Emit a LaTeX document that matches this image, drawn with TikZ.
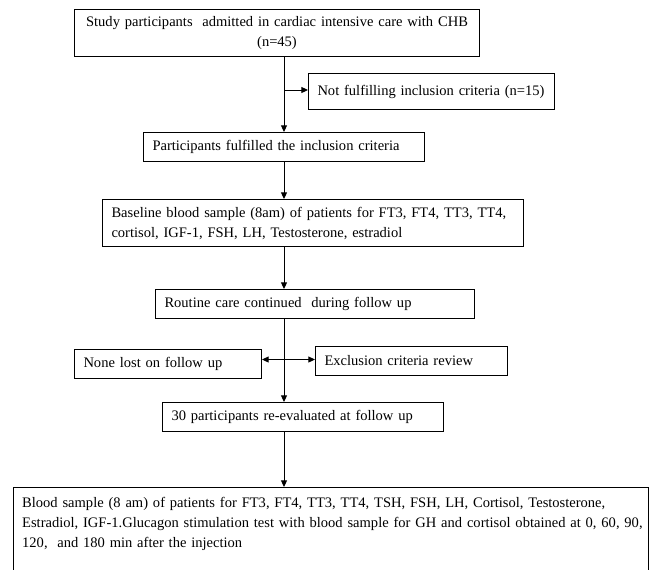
\documentclass[tikz,border=0pt]{standalone}
\usepackage{fontspec}
\setmainfont{Liberation Serif}
\usetikzlibrary{arrows.meta}

\tikzset{every picture/.style={line width=0.75pt}}
\tikzset{
  box/.style={draw, anchor=north west, inner xsep=6.75pt, inner ysep=0pt, align=left,
    font=\fontsize{10.9}{15}\selectfont},
  arr/.style={-{Triangle[length=5pt,width=4.5pt]}}
}

\begin{document}
\begin{tikzpicture}[x=0.75pt,y=0.75pt,yscale=-1,xscale=1]
\useasboundingbox (0,0) rectangle (650,569);

%Shape: Rectangle
\node [box, align=center, text width=290.25pt, minimum height=35.25pt] (admit) at (74,9) {\mbox{Study participants~ admitted in cardiac intensive care with CHB}\\(n=45)};
%Shape: Rectangle
\node [box, text width=171pt, minimum height=27pt] (notfit) at (308,73) {\mbox{Not fulfilling inclusion criteria (n=15)}};
%Shape: Rectangle
\node [box, text width=197.25pt, minimum height=21.75pt] (fulfil) at (143,132) {\mbox{Participants fulfilled the inclusion criteria}};
%Shape: Rectangle
\node [box, text width=302.25pt, minimum height=35.25pt] (baseline) at (102,199) {\mbox{Baseline blood sample (8am) of patients for FT3, FT4, TT3, TT4,}\\\mbox{cortisol, IGF-1, FSH, LH, Testosterone, estradiol}};
%Shape: Rectangle
\node [box, text width=225.75pt, minimum height=21.75pt] (routine) at (155,289) {\mbox{Routine care continued~ during follow up}};
%Shape: Rectangle
\node [box, text width=126.75pt, minimum height=21.75pt] (nonelost) at (74,349) {\mbox{None lost on follow up}};
%Shape: Rectangle
\node [box, text width=130.5pt, minimum height=21.75pt] (exclrev) at (315,346) {\mbox{Exclusion criteria review}};
%Shape: Rectangle
\node [box, text width=197.25pt, minimum height=21.75pt] (reeval) at (162,402) {\mbox{30 participants re-evaluated at follow up}};
%Shape: Rectangle
\node [box, text width=462.75pt, inner ysep=7pt] (final) at (12.7,487) {\mbox{Blood sample (8 am) of patients for FT3, FT4, TT3, TT4, TSH, FSH, LH, Cortisol, Testosterone,}\\\mbox{Estradiol, IGF-1.Glucagon stimulation test with blood sample for GH and cortisol obtained at 0, 60, 90,}\\\mbox{120,~ and 180 min after the injection}\\\mbox{}\\\mbox{}};

\coordinate (split1) at (284,90);
\coordinate (split2) at (284,359.5);

%Straight Lines
\draw [arr] (admit.south -| split1) -- (fulfil.north -| split1);
\draw [arr] (split1) -- (split1 -| notfit.west);
\draw [arr] (fulfil.south -| split1) -- (baseline.north -| split1);
\draw [arr] (baseline.south -| split1) -- (routine.north -| split1);
\draw [arr] (routine.south -| split2) -- (reeval.north -| split2);
\draw [arr] (split2) -- (split2 -| nonelost.east);
\draw [arr] (split2) -- (split2 -| exclrev.west);
\draw [arr] (reeval.south -| split2) -- (final.north -| split2);

\end{tikzpicture}
\end{document}
